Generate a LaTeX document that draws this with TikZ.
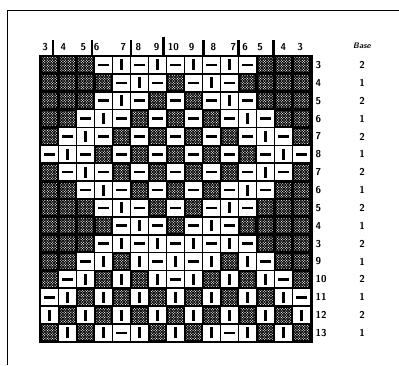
\documentclass[tikz,border=0pt]{standalone}
\usetikzlibrary{patterns}
\pgfdeclarepatternformonly{speck}{\pgfqpoint{-1pt}{-1pt}}{\pgfqpoint{3.6pt}{3.6pt}}{\pgfqpoint{2.6pt}{2.6pt}}{%
  \pgfpathcircle{\pgfqpoint{0.6pt}{0.6pt}}{0.62pt}%
  \pgfpathcircle{\pgfqpoint{1.9pt}{1.9pt}}{0.5pt}%
  \pgfusepath{fill}}
\begin{document}
\begin{tikzpicture}[x=1pt,y=-1pt,
  every node/.style={inner sep=0pt, outer sep=0pt},
  cellD/.style={minimum width=14.5pt, minimum height=14pt,
    preaction={fill=black}, pattern=speck, pattern color=white},
  cellW/.style={minimum width=16.4pt, minimum height=16.2pt, fill=white},
  cellH/.style={cellW, path picture={\fill[black]
    ([xshift=-5.5pt,yshift=-1.3pt]path picture bounding box.center) rectangle
    ([xshift=5.5pt,yshift=1.3pt]path picture bounding box.center);}},
  cellV/.style={cellW, path picture={\fill[black]
    ([xshift=-1.3pt,yshift=-5.5pt]path picture bounding box.center) rectangle
    ([xshift=1.3pt,yshift=5.5pt]path picture bounding box.center);}},
  lab/.style={font=\sffamily\bfseries\fontsize{10}{10}\selectfont},
  hbar/.style={line width=2.4pt},
  frame/.style={line width=0.9pt}
]
\useasboundingbox (0,0) rectangle (399,365);
% frame lines
\coordinate (fTL) at (7,10);
\coordinate (fTR) at (399,10);
\coordinate (fBL) at (7,365);
\draw[frame] (fBL) -- (fTL) -- (fTR);
% grid background
\fill[black] (38.5,55) rectangle (312.5,342.5);
% cells
\foreach \row [count=\r] in {
 {D,D,D,H,V,H,V,H,V,H,V,H,D,D,D},
 {D,D,D,D,H,V,H,D,H,V,H,D,D,D,D},
 {D,D,D,H,V,H,D,H,D,H,V,H,D,D,D},
 {D,D,H,V,H,D,H,D,H,D,H,V,H,D,D},
 {D,H,V,H,D,H,D,H,D,H,D,H,V,H,D},
 {H,V,H,D,H,D,H,D,H,D,H,D,H,V,H},
 {D,H,V,H,D,H,D,H,D,H,D,H,V,H,D},
 {D,D,H,V,H,D,H,D,H,D,H,V,H,D,D},
 {D,D,D,H,V,H,D,H,D,H,V,H,D,D,D},
 {D,D,D,D,H,V,H,D,H,V,H,D,D,D,D},
 {D,D,D,H,V,H,V,H,V,H,V,H,D,D,D},
 {D,D,H,V,D,V,H,V,H,V,D,V,H,D,D},
 {D,H,V,D,V,D,V,H,V,D,V,D,V,H,D},
 {H,V,D,V,D,V,D,V,D,V,D,V,D,V,H},
 {V,D,V,D,V,D,V,D,V,D,V,D,V,D,V},
 {D,V,D,V,H,V,D,V,D,V,H,V,D,V,D}} {
  \foreach \c [count=\k] in \row {
    \node[cell\c] (c-\r-\k) at ({40.5+(\k-0.5)*18}, {56+(\r-0.5)*17.87}) {};
  }
}
% column headers
\foreach \t/\x [count=\i] in {3/45,4/63.3,5/83.3,6/96.7,7/123.3,8/138.3,9/156.7,10/173.3,9/191.7,8/213.3,7/233.3,6/245,5/260,4/283.3,3/300} {
  \node[lab] (h-\i) at (\x,47) {\t};
}
% header separator bars
\foreach \x [count=\i] in {52.7,91.7,131,203.3,238.3,273.3} {
  \coordinate (bt-\i) at (\x,40);
  \coordinate (bb-\i) at (\x,56);
  \draw[hbar] (bt-\i) -- (bb-\i);
}
\coordinate (btc) at (163.3,36.5);
\coordinate (bbc) at (163.3,56);
\draw[hbar] (btc) -- (bbc);
% row labels and base values
\node[font=\sffamily\bfseries\itshape\fontsize{8}{8}\selectfont] (base) at (362,46) {Base};
\foreach \t/\b [count=\r] in {3/2,4/1,5/2,6/1,7/2,8/1,7/2,6/1,5/2,4/1,3/2,9/1,10/2,11/1,12/2,13/1} {
  \node[lab, anchor=west] (rl-\r) at (315.5, {56+(\r-0.5)*17.87}) {\t};
  \node[lab] (bv-\r) at (362, {56+(\r-0.5)*17.87}) {\b};
}
\end{tikzpicture}
\end{document}
